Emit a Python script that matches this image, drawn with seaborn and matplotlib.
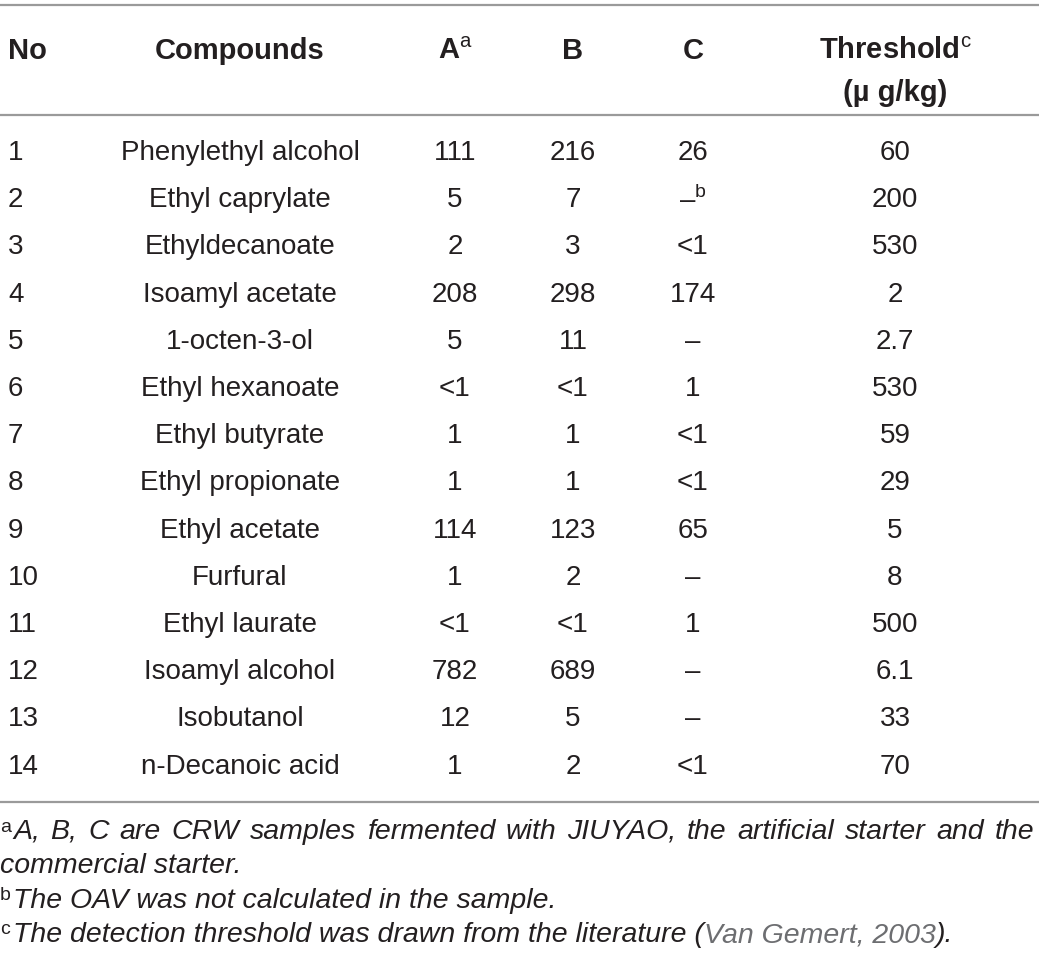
import numpy as np
import pandas as pd
import matplotlib
matplotlib.use("Agg")
import matplotlib.pyplot as plt
import seaborn as sns

# ---------- table data ----------
numbers = [str(i) for i in range(1, 15)]
compounds = ["Phenylethyl alcohol", "Ethyl caprylate", "Ethyldecanoate",
             "Isoamyl acetate", "1-octen-3-ol", "Ethyl hexanoate",
             "Ethyl butyrate", "Ethyl propionate", "Ethyl acetate",
             "Furfural", "Ethyl laurate", "Isoamyl alcohol", "Isobutanol",
             "n-Decanoic acid"]
col_a = ["111", "5", "2", "208", "5", "<1", "1", "1", "114", "1", "<1",
         "782", "12", "1"]
col_b = ["216", "7", "3", "298", "11", "<1", "1", "1", "123", "2", "<1",
         "689", "5", "2"]
col_c = ["26", "–$^{\\mathrm{b}}$", "<1", "174", "–", "1", "<1", "<1", "65",
         "–", "1", "–", "–", "<1"]
threshold = ["60", "200", "530", "2", "2.7", "530", "59", "29", "5", "8",
             "500", "6.1", "33", "70"]

headers = ["No", "Compounds", "A$^{\\mathrm{a}}$", "B", "C",
           "Threshold$^{\\mathrm{c}}$"]
unit = "(µ g/kg)"

footnotes = [
    ("a", "A, B, C are CRW samples fermented with JIUYAO, the artificial starter and the"),
    ("", "commercial starter."),
    ("b", "The OAV was not calculated in the sample."),
    ("c", "The detection threshold was drawn from the literature ("),
]
cite = "Van Gemert, 2003"

df = pd.DataFrame({"No": numbers, "Compounds": compounds, "A": col_a,
                   "B": col_b, "C": col_c, "Threshold": threshold})

# ---------- style ----------
sns.set_theme(style="white")
plt.rcParams["font.family"] = ["Liberation Sans", "DejaVu Sans"]
plt.rcParams["mathtext.fontset"] = "custom"
plt.rcParams["mathtext.rm"] = "Liberation Sans"

txt_col = "#231f20"
line_col = "#9a9a9a"
fs = 20
fs_head = 21
fs_foot = 20.5

fig = plt.figure(figsize=(10.39, 9.64), dpi=100)
ax = fig.add_axes([0, 0, 1, 1])
ax.set_xlim(0, 1039)
ax.set_ylim(964, 0)
ax.axis("off")
inv = ax.transData.inverted()

# column layout (x, ha)
cols = [(8, "left"), (240, "center"), (455, "center"), (573, "center"),
        (693, "center"), (895, "center")]

# rules
for y in [5, 115, 802]:
    ax.plot([0, 1039], [y, y], color=line_col, lw=1.6, solid_capstyle="butt")

# header
for (x, ha), h in zip(cols, headers):
    ax.text(x, 51, h, ha=ha, va="center", fontsize=fs_head, fontweight="bold",
            color=txt_col)
ax.text(cols[-1][0], 93, unit, ha="center", va="center", fontsize=fs_head,
        fontweight="bold", color=txt_col)

# body
row0, step = 153, 47.2
for i, row in df.iterrows():
    y = row0 + i * step
    for (x, ha), key in zip(cols, df.columns):
        ax.text(x, y, row[key], ha=ha, va="center", fontsize=fs,
                color=txt_col)


def data_width(t):
    fig.canvas.draw()
    bb = t.get_window_extent().transformed(inv)
    return bb.x0, bb.x1


# footnotes
fy = [832, 866, 901, 935]
last = None
for (mark, text), y in zip(footnotes, fy):
    x0 = 0
    if mark:
        ax.text(0, y - 5, mark, ha="left", va="center", fontsize=14,
                color=txt_col)
        x0 = 13
    if mark == "a":
        # justified first line: spread words across the full width
        words = text.split(" ")
        items = [ax.text(0, y, w, ha="left", va="center", fontsize=fs_foot,
                         style="italic", color=txt_col) for w in words]
        widths = [data_width(t)[1] - data_width(t)[0] for t in items]
        gap = (1034 - x0 - sum(widths)) / (len(words) - 1)
        xx = x0
        for t, w in zip(items, widths):
            t.set_x(xx)
            xx += w + gap
    else:
        last = ax.text(x0, y, text, ha="left", va="center", fontsize=fs_foot,
                       style="italic", color=txt_col)

x1 = data_width(last)[1]
c = ax.text(x1, fy[-1], cite, ha="left", va="center", fontsize=fs_foot,
            style="italic", color="#6d6e71")
x2 = data_width(c)[1]
ax.text(x2, fy[-1], ").", ha="left", va="center", fontsize=fs_foot,
        style="italic", color=txt_col)

fig.savefig("out.png", dpi=100)
